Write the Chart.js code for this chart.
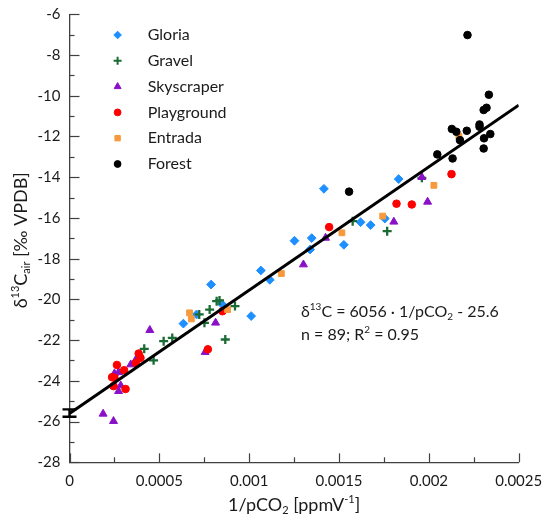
<!DOCTYPE html>
<html>
<head>
<meta charset="utf-8">
<script src="https://cdn.jsdelivr.net/npm/chart.js@4.4.1/dist/chart.umd.min.js"></script>
<style>
  html, body { margin: 0; padding: 0; background: #fff; }
</style>
</head>
<body>
<canvas id="chart" width="543" height="518"></canvas>
<script>
// data (x = 1/pCO2, y = d13C air)
const gloriaX = [0.001416, 0.001832, 0.001252, 0.001348, 0.001339, 0.001527, 0.00162, 0.001676, 0.001755, 0.001065, 0.001115, 0.000788, 0.001011, 0.000634, 0.000707, 0.000847];
const gloriaY = [-14.57, -14.09, -17.12, -16.99, -17.55, -17.32, -16.21, -16.35, -16.03, -18.58, -19.04, -19.27, -20.82, -21.19, -20.74, -20.22];

const gravelX = [0.001576, 0.001768, 0.001961, 0.000819, 0.000835, 0.00078, 0.000722, 0.000751, 0.000921, 0.000867, 0.000572, 0.000524, 0.000416, 0.000468];
const gravelY = [-16.16, -16.65, -14.03, -20.09, -20.05, -20.5, -20.74, -21.15, -20.33, -21.97, -21.89, -22.05, -22.43, -22.99];

const skyX = [0.001961, 0.001993, 0.001805, 0.001425, 0.001302, 0.000813, 0.000755, 0.000447, 0.000341, 0.000372, 0.00025, 0.000273, 0.000285, 0.000273, 0.000187, 0.000245];
const skyY = [-14.0, -15.21, -16.19, -16.98, -18.29, -21.15, -22.59, -21.51, -23.2, -22.92, -23.64, -23.58, -24.23, -24.51, -25.62, -25.98];

const playX = [0.002126, 0.00182, 0.001905, 0.001445, 0.000851, 0.00077, 0.000385, 0.000395, 0.00037, 0.000304, 0.000264, 0.000237, 0.00025, 0.000245, 0.000312];
const playY = [-13.85, -15.3, -15.34, -16.45, -20.58, -22.45, -22.66, -22.87, -23.12, -23.48, -23.22, -23.82, -23.85, -24.26, -24.4];

const entX = [0.002167, 0.002028, 0.001743, 0.001516, 0.001179, 0.000668, 0.000678, 0.00088];
const entY = [-11.98, -14.4, -15.91, -16.73, -18.73, -20.66, -20.96, -20.5];

const forestX = [0.002215, 0.002334, 0.002321, 0.002305, 0.002282, 0.002282, 0.002342, 0.002307, 0.002305, 0.002211, 0.002128, 0.002153, 0.002173, 0.002047, 0.002132, 0.001556];
const forestY = [-7.02, -9.95, -10.59, -10.7, -11.41, -11.52, -11.88, -12.09, -12.59, -11.72, -11.63, -11.77, -12.18, -12.88, -13.08, -14.71];

// regression from the figure: d13C = 6056 * 1/pCO2 - 25.6
const fitSlope = 6056;
const fitIntercept = -25.6;
const fitX = [0, 0.0025];
const interceptErr = [-25.4, -25.76];

const xTickLabels = ['0', '0.0005', '0.001', '0.0015', '0.002', '0.0025'];
const yTicks = [-6, -8, -10, -12, -14, -16, -18, -20, -22, -24, -26, -28];

const FONT = 'Lato, "Open Sans", sans-serif';

function toPoints(xs, ys) {
  return xs.map((x, i) => ({ x: x, y: ys[i] }));
}

const series = [
  { label: 'Gloria', xs: gloriaX, ys: gloriaY, color: '#1E8FFF', style: 'rectRot', r: 4.4, lr: 3.8 },
  { label: 'Gravel', xs: gravelX, ys: gravelY, color: '#1B6B35', style: 'cross', r: 4.5, lr: 4 },
  { label: 'Skyscraper', xs: skyX, ys: skyY, color: '#8A10C8', style: 'triangle', r: 4.6, lr: 4 },
  { label: 'Playground', xs: playX, ys: playY, color: '#FF0000', style: 'circle', r: 3.8, lr: 3.4 },
  { label: 'Entrada', xs: entX, ys: entY, color: '#F79A3C', style: 'rect', r: 4.1, lr: 3.8 },
  { label: 'Forest', xs: forestX, ys: forestY, color: '#000000', style: 'circle', r: 3.8, lr: 3.4 }
];

function font(size) {
  return size + 'px ' + FONT;
}

// text with super/subscripts; parts = [text, mode] (1 sup, -1 sub)
function drawRich(ctx, parts, x, y, size, align) {
  const small = Math.round(size * 0.62);
  const widths = parts.map(p => {
    ctx.font = font(p[1] ? small : size);
    return ctx.measureText(p[0]).width;
  });
  const total = widths.reduce((a, b) => a + b, 0);
  let cx = align === 'center' ? x - total / 2 : x;
  ctx.textAlign = 'left';
  ctx.textBaseline = 'middle';
  parts.forEach((p, i) => {
    ctx.font = font(p[1] ? small : size);
    const dy = p[1] === 1 ? -size * 0.3 : p[1] === -1 ? size * 0.28 : 0;
    ctx.fillText(p[0], cx, y + dy);
    cx += widths[i];
  });
}

const decorations = {
  id: 'decorations',
  beforeDatasetsDraw(chart) {
    const ctx = chart.ctx;
    const xs = chart.scales.x;
    const ys = chart.scales.y;
    const area = chart.chartArea;
    ctx.save();
    ctx.strokeStyle = '#404040';
    ctx.lineWidth = 1.2;
    // inward tick marks, major + minor
    for (let k = 0; k <= 10; k++) {
      const px = Math.round(xs.getPixelForValue(k * 0.00025)) + 0.5;
      const len = k % 2 === 0 ? 9 : 5;
      ctx.beginPath();
      ctx.moveTo(px, area.bottom);
      ctx.lineTo(px, area.bottom - len);
      ctx.stroke();
    }
    for (let v = -28; v <= -6; v++) {
      const py = Math.round(ys.getPixelForValue(v)) + 0.5;
      const len = v % 2 === 0 ? 10 : 5;
      ctx.beginPath();
      ctx.moveTo(area.left, py);
      ctx.lineTo(area.left + len, py);
      ctx.stroke();
    }
    ctx.restore();
  },
  afterDraw(chart) {
    const ctx = chart.ctx;
    const xs = chart.scales.x;
    const ys = chart.scales.y;
    ctx.save();
    ctx.fillStyle = '#1a1a1a';

    // intercept error bar
    const ex = xs.getPixelForValue(0);
    const e1 = ys.getPixelForValue(interceptErr[0]);
    const e2 = ys.getPixelForValue(interceptErr[1]);
    ctx.strokeStyle = '#000';
    ctx.lineWidth = 2.4;
    ctx.beginPath();
    ctx.moveTo(ex - 7, e1); ctx.lineTo(ex + 7, e1);
    ctx.moveTo(ex - 7, e2); ctx.lineTo(ex + 7, e2);
    ctx.moveTo(ex, e1); ctx.lineTo(ex, e2);
    ctx.stroke();

    // legend
    const drawPoint = Chart.helpers && Chart.helpers.drawPoint;
    series.forEach((s, i) => {
      const ly = 35 + i * 25.8;
      ctx.fillStyle = s.color;
      ctx.strokeStyle = s.color;
      ctx.lineWidth = s.style === 'cross' ? 2 : 1;
      if (drawPoint) {
        drawPoint(ctx, { pointStyle: s.style, radius: s.lr, borderWidth: 1, rotation: 0 }, 117.6, ly);
      } else {
        ctx.beginPath();
        ctx.arc(117.6, ly, s.lr, 0, Math.PI * 2);
        ctx.fill();
      }
      ctx.fillStyle = '#1a1a1a';
      ctx.font = font(16);
      ctx.textAlign = 'left';
      ctx.textBaseline = 'middle';
      ctx.fillText(s.label, 147.7, ly);
    });

    // regression annotation
    ctx.fillStyle = '#1a1a1a';
    drawRich(ctx, [['δ', 0], ['13', 1], ['C = 6056 ', 0], ['·', 0], [' 1/pCO', 0], ['2', -1], [' - 25.6', 0]], 301, 312, 16, 'left');
    drawRich(ctx, [['n = 89; R', 0], ['2', 1], [' = 0.95', 0]], 301, 335, 16, 'left');

    // axis titles
    drawRich(ctx, [['1/pCO', 0], ['2', -1], [' [ppmV', 0], ['-1', 1], [']', 0]], (chart.chartArea.left + chart.chartArea.right) / 2, 505, 18, 'center');
    ctx.translate(21, (chart.chartArea.top + chart.chartArea.bottom) / 2 + 2);
    ctx.rotate(-Math.PI / 2);
    drawRich(ctx, [['δ', 0], ['13', 1], ['C', 0], ['air', -1], [' [‰ VPDB]', 0]], 0, 0, 18, 'center');
    ctx.restore();
  }
};

const datasets = series.map((s, i) => ({
  label: s.label,
  data: toPoints(s.xs, s.ys),
  pointStyle: s.style,
  pointRadius: s.r,
  pointBackgroundColor: s.color,
  pointBorderColor: s.color,
  pointBorderWidth: s.style === 'cross' ? 2.3 : 1,
  order: series.length - i
}));

datasets.push({
  type: 'line',
  label: 'fit',
  data: fitX.map(x => ({ x: x, y: fitSlope * x + fitIntercept })),
  borderColor: '#000',
  borderWidth: 3,
  pointRadius: 0,
  fill: false,
  order: 0
});

new Chart(document.getElementById('chart'), {
  type: 'scatter',
  data: { datasets: datasets },
  options: {
    responsive: false,
    animation: false,
    devicePixelRatio: 1,
    layout: { padding: { top: 14.3, right: 24.3, left: 0, bottom: 0 } },
    plugins: {
      legend: { display: false },
      tooltip: { enabled: false }
    },
    scales: {
      x: {
        type: 'linear',
        min: 0,
        max: 0.0025,
        afterFit: scale => {
          scale.height = 55.7;
          scale.paddingLeft = 0;
          scale.paddingRight = 0;
        },
        afterBuildTicks: scale => {
          scale.ticks = xTickLabels.map((t, i) => ({ value: i * 0.0005 }));
        },
        ticks: {
          callback: (v, i) => xTickLabels[i],
          color: '#1a1a1a',
          font: { family: FONT, size: 15 },
          padding: 10,
          maxRotation: 0
        },
        grid: { display: false, drawTicks: false },
        border: { display: true, color: '#404040', width: 1.3 }
      },
      y: {
        type: 'linear',
        min: -28,
        max: -6,
        afterFit: scale => {
          scale.width = 69.5;
          scale.paddingTop = 0;
          scale.paddingBottom = 0;
        },
        afterBuildTicks: scale => {
          scale.ticks = yTicks.map(v => ({ value: v }));
        },
        ticks: {
          callback: v => String(v),
          color: '#1a1a1a',
          font: { family: FONT, size: 15 },
          padding: 9
        },
        grid: { display: false, drawTicks: false },
        border: { display: true, color: '#404040', width: 1.3 }
      }
    }
  },
  plugins: [decorations]
});
</script>
</body>
</html>
